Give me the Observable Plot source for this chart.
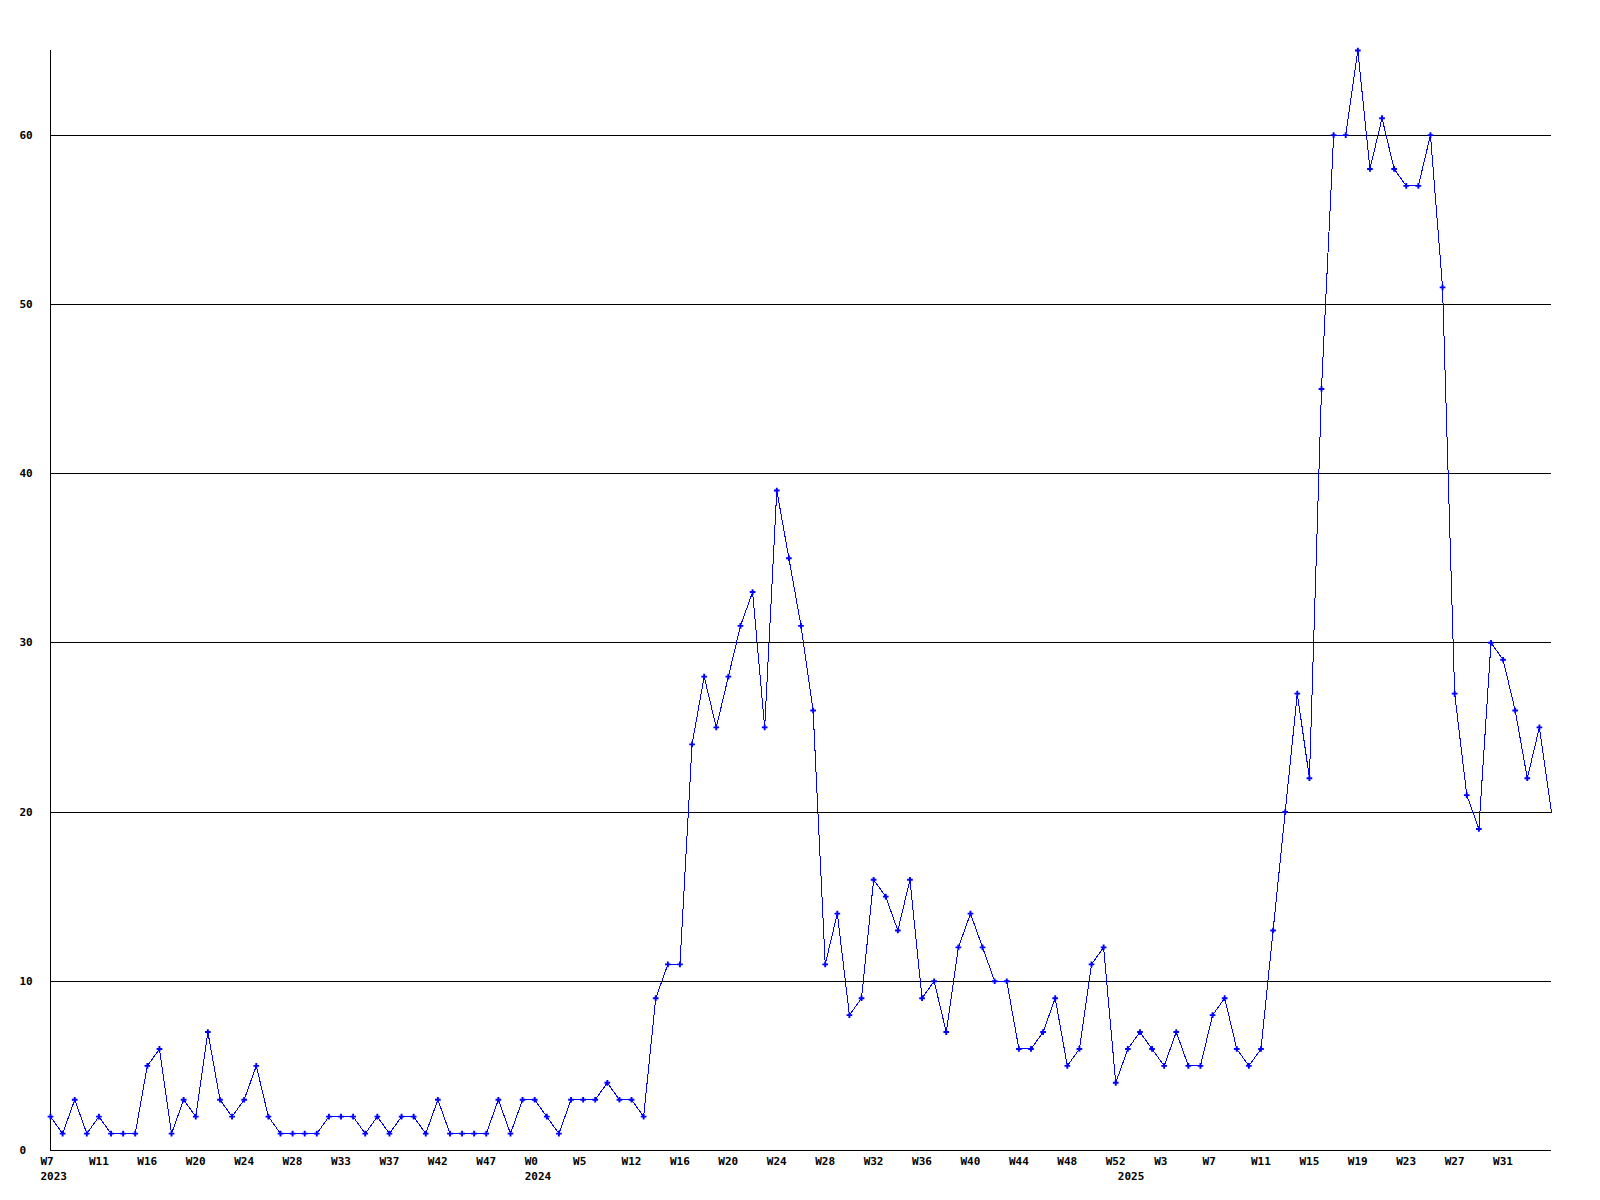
<!DOCTYPE html>
<html><head><meta charset="utf-8">
<script src="https://cdn.jsdelivr.net/npm/d3@7"></script>
<script src="https://cdn.jsdelivr.net/npm/@observablehq/plot@0.6"></script>
<style>body{margin:0;background:#fff}</style>
</head><body><div id="chart"></div>
<script>
// Weekly values, 2023 W7 onward
const values = [
  2,1,3,1,2,1,1,1,5,6,1,3,2,7,3,2,3,5,2,1,1,1,1,2,2,2,1,2,1,2,2,1,
  3,1,1,1,1,3,1,3,3,2,1,3,3,3,4,3,3,2,9,11,11,
  24,28,25,28,31,33,25,39,35,31,26,11,14,8,9,16,15,13,16,9,10,7,12,14,12,10,10,
  6,6,7,9,5,6,11,12,4,6,7,6,5,7,5,5,8,9,6,5,6,13,20,27,22,45,60,60,65,58,61,58,57,57,60,51,
  27,21,19,30,29,26,22,25,20
];
// Week tick labels, one every 4th point
const tickLabels = [
  "W7","W11","W16","W20","W24","W28","W33","W37","W42","W47",
  "W0","W5","W12","W16","W20","W24","W28","W32","W36","W40","W44","W48","W52",
  "W3","W7","W11","W15","W19","W23","W27","W31"
];
const tickStep = 4;
const yearLabels = ["2023","2024","2025"];
const yearStartIndex = [0,40,89];
const yTicks = [0,10,20,30,40,50,60];

const data = values.map((v,i)=>({i, v}));
const ticks = tickLabels.map((label,k)=>({i:k*tickStep, label}));
const years = yearLabels.map((label,k)=>({i:yearStartIndex[k], label}));

const chart = Plot.plot({
  width: 1600, height: 1200,
  marginLeft: 50, marginRight: 49, marginTop: 50, marginBottom: 50,
  style: {fontFamily: "'DejaVu Sans Mono', monospace", fontSize: "11px", fontWeight: "bold", background: "white", color: "black", overflow: "visible"},
  x: {type: "linear", domain: [0, values.length-1], axis: null},
  y: {domain: [0, 65], axis: null},
  marks: [
    Plot.ruleY(yTicks, {stroke: "black", strokeWidth: 1, shapeRendering: "crispEdges"}),
    Plot.ruleX([0], {stroke: "black", strokeWidth: 1, shapeRendering: "crispEdges"}),
    Plot.line(data, {x: "i", y: "v", stroke: "#0000ff", strokeWidth: 1, shapeRendering: "crispEdges"}),
    Plot.dot(data.slice(0, -1), {x: "i", y: "v", symbol: "cross", r: 2.4, fill: "#0000ff", stroke: "none"}),
    Plot.text(yTicks, {y: d=>d, text: d=>String(d), frameAnchor: "left", dx: -31, textAnchor: "start", fill: "black"}),
    Plot.text(ticks, {x: "i", text: "label", frameAnchor: "bottom", dy: 14, dx: -10, textAnchor: "start", fill: "black"}),
    Plot.text(years, {x: "i", text: "label", frameAnchor: "bottom", dy: 29.5, dx: -10, textAnchor: "start", fill: "black"})
  ]
});
document.getElementById("chart").appendChild(chart);
</script>
</body></html>
